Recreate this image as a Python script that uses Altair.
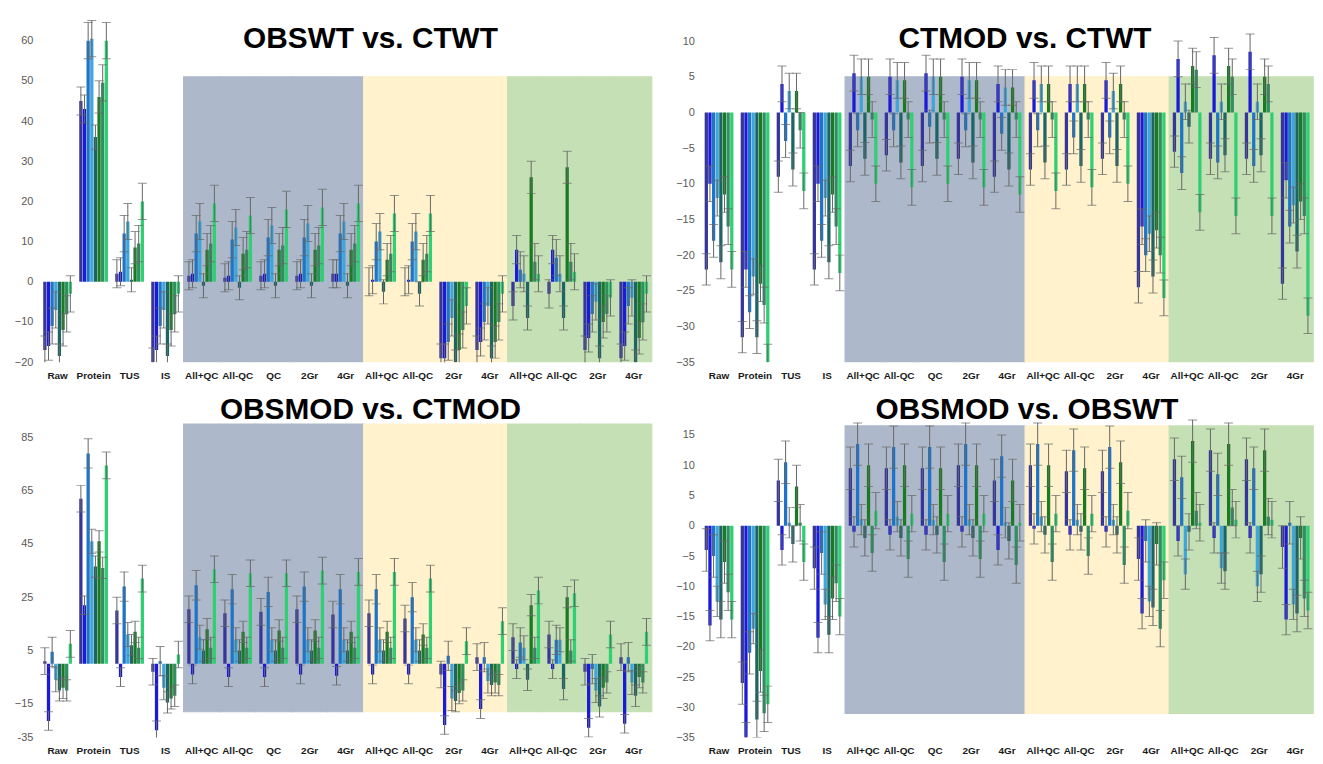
import altair as alt
import pandas as pd

CATEGORIES = ["Raw", "Protein", "TUS", "IS",
              "All+QC", "All-QC", "QC", "2Gr", "4Gr",
              "All+QC", "All-QC", "2Gr", "4Gr",
              "All+QC", "All-QC", "2Gr", "4Gr"]
SECTION = ["", "", "", "",
           "grey", "grey", "grey", "grey", "grey",
           "yellow", "yellow", "yellow", "yellow",
           "green", "green", "green", "green"]
SECTION_NAMES = ["grey", "yellow", "green"]
SECTION_COLORS = ["#adb9ca", "#fff2cc", "#c5e0b4"]

SERIES = ["S1", "S2", "S3", "S4", "S5", "S6", "S7", "S8"]
SERIES_COLORS = ["#35359a", "#1a1ad8", "#1f74c8", "#3fa6dc",
                 "#1d6464", "#1a7a22", "#2e8f63", "#30cf74"]
ERR_COLOR = "#666666"

# values: one row per category (17), 8 series per row
P1_VALUES = [
    [-17, -16, -11, -7, -18.5, -12, -8, -3],
    [45, 43, 60, 60.5, 36, 46, 49.5, 60],
    [2, 2.5, 12, 15, 0.5, 8.5, 9.5, 20],
    [-20, -17, -11, -7, -18.5, -12, -8, -3],
    [1.5, 2, 12, 15, -1, 8, 9.5, 19.5],
    [1, 1.5, 10.5, 13.5, -1.5, 7, 8, 16.5],
    [1.5, 2, 11, 14, -1, 8, 9, 18],
    [1.5, 2, 11, 14.5, -1, 8, 9, 18.5],
    [2, 2, 12, 15, -1, 8, 9.5, 19.5],
    [0, 0.5, 10, 12.5, -2.5, 5.5, 7, 17],
    [0, 0.5, 10, 12.5, -3, 5.5, 7, 17],
    [-19, -19, -15, -9, -20, -17, -12, -6],
    [-17, -15, -10, -6, -19, -15, -10, -3],
    [-6, 8, 3, 2, -9, 26, 5, 2],
    [-3, 8, 6, 2, -9, 28.5, 5, 2.5],
    [-17, -14, -8, -5, -19, -10, -8, -4],
    [-19, -16, -6, -4, -20, -14, -10, -3],
]
P1_ERR = [3.5, 3.5, 4.5, 4.5, 3, 4, 4.5, 4.5]

P2_VALUES = [
    [-22, -10, -18, -12, -21, -11.5, -16, -22],
    [-31.5, -22, -28, -23, -31.5, -24, -27, -35],
    [-9, 4, -4, 3, -8, 3, -2.5, -11],
    [-22, -10, -18, -12, -21, -11.5, -16, -22.5],
    [-7.5, 5.5, -2.5, 5, -6.5, 5, -1, -10],
    [-6, 5, -2.5, 4.5, -7, 4.5, -1, -10.5],
    [-7.5, 5.5, -2, 5, -6.5, 5, -1, -10],
    [-6.5, 5, -2.5, 4.5, -7, 4.5, -1, -10.5],
    [-9, 4, -3, 3.5, -8, 3.5, -1, -11.5],
    [-8, 4.5, -2.5, 4, -7, 4, -1, -11],
    [-8, 4, -3.5, 4, -7.5, 4, -1, -10.5],
    [-6.5, 4.5, -3.5, 3, -7.5, 4, -1, -10],
    [-24.5, -16, -20, -17, -23, -16.5, -20, -26],
    [-5.5, 7.5, -8.5, 1.5, -2, 6.5, 6, -14],
    [-6.5, 8, -7, 1.5, -6, 6.5, 5, -14.5],
    [-6.5, 8.5, -7.5, 1.5, -6, 5, 4, -14.5],
    [-24, -9.5, -16, -13, -19.5, -12.5, -14.5, -28.5],
]
P2_ERR = [2.2, 2.5, 2.3, 2.5, 2.3, 2.5, 2.5, 2.5]

P3_VALUES = [
    [1, -21.5, 4.5, -6, -10, -9, -10, 7.5],
    [62, 22, 79, 46, 36.5, 46, 36, 74.5],
    [20, -5, 29, 11, 7, 12, 6, 32],
    [-3, -25, 1, -9, -14.5, -13, -12, 3.5],
    [20.5, -4, 29.5, 10, 5, 13, 6, 35.5],
    [19, -5, 28, 9, 5, 12, 6, 34],
    [19.5, -5, 27, 9, 5, 12.5, 6, 34],
    [20.5, -4, 29, 9, 5, 12.5, 6, 35],
    [18.5, -4.5, 28, 9, 5, 12, 6, 34.5],
    [19, -4, 28, 9, 5, 12, 6, 34.5],
    [17, -4, 25, 9, 5, 11, 6, 32],
    [-4, -23, 3, -13, -14, -11, -10, 8.5],
    [2.5, -17, 2.5, -6.5, -8, -7, -8, 16],
    [10, -2, 8, 6, -6, 22, 6, 27.5],
    [11, -2, 9, 9, -9.5, 25, 5, 26.5],
    [-3, -24, -2, -10, -16, -9, -7, 11],
    [2.5, -22.5, 2.5, -7, -12, -5, -7, 12],
]
P3_ERR = [5, 3.5, 5.5, 4.5, 4, 4, 4, 5]

P4_VALUES = [
    [-4, -16.5, -5, -12.5, -15.5, -6, -11, -15.5],
    [-26, -35, -21, -17, -32, -24, -31, -29.5],
    [7.5, -4, 10.5, 0.5, -3, 6.5, 0.5, -6],
    [-7, -18.5, -4.5, -13, -18, -12, -9.5, -15],
    [9.5, -1, 13.5, 1, -2, 10, -4.5, 2.5],
    [9.5, -1.5, 13, 1.5, -2, 10, -5.5, 2],
    [9.5, -1.5, 13, 1, -1.5, 9.5, -6, 2],
    [10, -1, 13.5, 1, -2, 10, -5.5, 2],
    [7.5, -4, 11.5, 0.5, -2.5, 7.5, -6.5, 0.5],
    [10, -0.5, 13.5, 1.5, -1.5, 10, -6, 2],
    [9, -1.5, 12.5, 1, -1, 9.5, -5, 2],
    [9, -1, 13, 1, -1.5, 10.5, -6.5, 2.5],
    [-5.5, -14.5, -2.5, -12.5, -13.5, -3, -17, -9],
    [11, -2.5, 8, -8, -1, 14, 2.5, 0.5],
    [12.5, -2, 8.5, -7, -7.5, 13.5, 3, 1],
    [11, -2, 9.5, -10, -8, 12.5, 1.5, 1],
    [-3.5, -15.5, 0.5, -13, -14.5, -2, -12, -14],
]
P4_ERR = [3.5, 2.5, 3.5, 2.5, 3, 3.5, 3, 3]

CAT_IDS = [f"{i:02d}_{c}" for i, c in enumerate(CATEGORIES)]

LABEL_FONT = "Liberation Sans Narrow, Arial Narrow, Liberation Sans"
PANEL_W = 620


def build(values, errors):
    rows = []
    for ci, cid in enumerate(CAT_IDS):
        for si, s in enumerate(SERIES):
            v = values[ci][si]
            e = errors[si]
            rows.append(dict(cat=cid, series=s, value=v, lo=v - e, hi=v + e))
    return pd.DataFrame(rows)


def make_panel(values, errors, title, ydom, yticks, bg_top, bg_bottom,
               height, title_dx, title_offset, ylabel_expr=None):
    df = build(values, errors)
    bg = pd.DataFrame([dict(cat=CAT_IDS[i], section=SECTION[i], top=bg_top, bottom=bg_bottom)
                       for i in range(len(CAT_IDS)) if SECTION[i]])
    xaxis = alt.Axis(labelExpr="substring(datum.label, 3)", labelAngle=0,
                     labelFontWeight="bold", labelFontSize=10, labelColor="#1a1a1a",
                     labelFont=LABEL_FONT, ticks=False, domain=False, grid=False,
                     labelPadding=8, labelOverlap=False, title=None)
    xenc = alt.X("cat:N", scale=alt.Scale(domain=CAT_IDS, paddingInner=0, paddingOuter=0.05),
                 axis=xaxis, title=None)
    xoff = alt.XOffset("series:N", scale=alt.Scale(domain=SERIES, paddingInner=0.1, paddingOuter=1))
    ykw = dict(values=yticks, labelColor="#595959", labelFontSize=11, labelFont="Liberation Sans",
               ticks=False, domain=False, grid=False, labelPadding=5, title=None)
    if ylabel_expr:
        ykw["labelExpr"] = ylabel_expr
    yaxis = alt.Axis(**ykw)
    yscale = alt.Scale(domain=ydom, nice=False, zero=False)
    sec_scale = alt.Scale(domain=SECTION_NAMES, range=SECTION_COLORS)

    bg_layer = alt.Chart(bg).mark_rect(clip=True, strokeWidth=1.2).encode(
        x=xenc,
        y=alt.Y("top:Q", scale=yscale, axis=yaxis, title=None),
        y2="bottom:Q",
        fill=alt.Fill("section:N", scale=sec_scale, legend=None),
        stroke=alt.Stroke("section:N", scale=sec_scale, legend=None),
    )
    bars = alt.Chart(df).mark_bar(clip=True).encode(
        x=xenc, xOffset=xoff,
        y=alt.Y("value:Q", scale=yscale, axis=yaxis, title=None),
        y2=alt.datum(0),
        color=alt.Color("series:N", scale=alt.Scale(domain=SERIES, range=SERIES_COLORS), legend=None),
    )
    rules = alt.Chart(df).mark_rule(clip=True, color=ERR_COLOR, strokeWidth=1).encode(
        x=xenc, xOffset=xoff,
        y=alt.Y("lo:Q", scale=yscale, axis=yaxis, title=None),
        y2="hi:Q",
    )
    caps = alt.Chart(df).transform_fold(["lo", "hi"], as_=["end", "cap"]).mark_tick(
        clip=True, color=ERR_COLOR, thickness=1, size=9).encode(
        x=xenc, xOffset=xoff,
        y=alt.Y("cap:Q", scale=yscale, axis=yaxis, title=None),
    )
    return alt.layer(bg_layer, bars, rules, caps).properties(
        width=PANEL_W, height=height,
        title=alt.TitleParams(title, fontSize=30, font="Liberation Sans", fontWeight="bold",
                              color="#000000", anchor="middle", frame="group",
                              dx=title_dx, offset=title_offset, baseline="alphabetic"),
    )


p1 = make_panel(P1_VALUES, P1_ERR, "OBSWT vs. CTWT", [-20, 67],
                [-20, -10, 0, 10, 20, 30, 40, 50, 60], 51, -20, 352, 25, -66)
p2 = make_panel(P2_VALUES, P2_ERR, "CTMOD vs. CTWT", [-35, 14],
                list(range(-35, 11, 5)), 5, -35, 352, 18, -66)
p3 = make_panel(P3_VALUES, P3_ERR, "OBSMOD vs. CTMOD", [-27.7, 95],
                [85, 65, 45, 25, 5, -15, -27.7], 90, -18, 329, 25, -38,
                ylabel_expr="datum.value < -20 ? '-35' : datum.label")
p4 = make_panel(P4_VALUES, P4_ERR, "OBSMOD vs. OBSWT", [-35, 19],
                list(range(-35, 16, 5)), 16.5, -31, 329, 20, -38)

chart = alt.vconcat(
    alt.hconcat(p1, p2, spacing=22),
    alt.hconcat(p3, p4, spacing=22),
    spacing=15,
).properties(
    padding={"left": 6, "top": 2, "right": 0, "bottom": 0}
).configure_view(stroke=None)

chart.save("out.html", embed_options={"renderer": "svg", "actions": False})
